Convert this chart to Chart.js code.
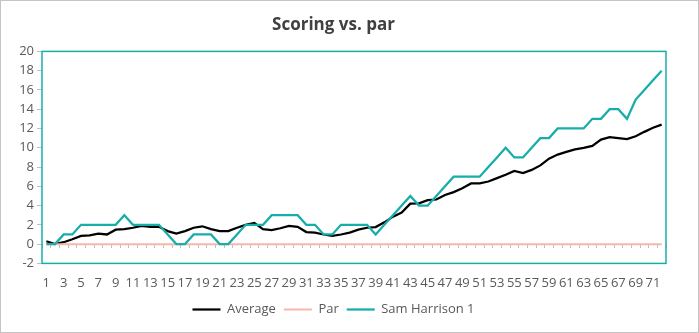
<!DOCTYPE html>
<html>
<head>
<meta charset="utf-8">
<script src="https://cdn.jsdelivr.net/npm/chart.js@4.4.1/dist/chart.umd.min.js"></script>
<style>
  html, body { margin: 0; padding: 0; background: #fff; }
  #wrap { position: relative; width: 699px; height: 333px; box-sizing: border-box; border: 1px solid #c4c4c4; }
</style>
</head>
<body>
<div id="wrap"><canvas id="myChart"></canvas></div>
<script>
// datos
var rounds = [];
for (var i = 1; i <= 72; i++) rounds.push(String(i));

var average = [0.3, 0.0, 0.2, 0.5, 0.85, 0.9, 1.1, 1.0, 1.5, 1.55, 1.7, 1.9, 1.8, 1.8, 1.35, 1.1, 1.35, 1.7,
  1.85, 1.55, 1.35, 1.35, 1.7, 2.0, 2.2, 1.55, 1.45, 1.65, 1.9, 1.8, 1.25, 1.2, 1.0, 0.87, 1.0, 1.2,
  1.5, 1.7, 1.77, 2.26, 2.85, 3.27, 4.2, 4.24, 4.56, 4.63, 5.1, 5.4, 5.8, 6.3, 6.3, 6.5, 6.85, 7.2,
  7.6, 7.37, 7.7, 8.17, 8.87, 9.29, 9.57, 9.84, 9.98, 10.2, 10.85, 11.1, 11.0, 10.9, 11.2, 11.65, 12.07, 12.4];

var par = [0, 0, 0, 0, 0, 0, 0, 0, 0, 0, 0, 0, 0, 0, 0, 0, 0, 0, 0, 0, 0, 0, 0, 0,
  0, 0, 0, 0, 0, 0, 0, 0, 0, 0, 0, 0, 0, 0, 0, 0, 0, 0, 0, 0, 0, 0, 0, 0,
  0, 0, 0, 0, 0, 0, 0, 0, 0, 0, 0, 0, 0, 0, 0, 0, 0, 0, 0, 0, 0, 0, 0, 0];

var samHarrison = [0, 0, 1, 1, 2, 2, 2, 2, 2, 3, 2, 2, 2, 2, 1, 0, 0, 1, 1, 1, 0, 0, 1, 2,
  2, 2, 3, 3, 3, 3, 2, 2, 1, 1, 2, 2, 2, 2, 1, 2, 3, 4, 5, 4, 4, 5, 6, 7,
  7, 7, 7, 8, 9, 10, 9, 9, 10, 11, 11, 12, 12, 12, 12, 13, 13, 14, 14, 13, 15, 16, 17, 18];

var yMin = -2, yMax = 20, yStep = 2;

var teal = '#17aeaa';
var gris = '#595959';
var fuente = "'Open Sans', 'Noto Sans', sans-serif";

// marco del area de trazado
var marco = {
  id: 'marco',
  afterDatasetsDraw: (chart) => {
    var a = chart.chartArea, c = chart.ctx;
    c.save();
    c.strokeStyle = teal;
    c.lineWidth = 1.5;
    c.strokeRect(a.left, a.top, a.right - a.left, a.bottom - a.top);
    c.restore();
  }
};

var ctx = document.getElementById('myChart').getContext('2d');
var chart = new Chart(ctx, {
  type: 'line',
  data: {
    labels: rounds,
    datasets: [
      { label: 'Average', data: average, borderColor: '#000000', backgroundColor: '#000000', borderWidth: 2.25, order: 2 },
      { label: 'Par', data: par, borderColor: '#f5b7aa', backgroundColor: '#f5b7aa', borderWidth: 2, order: 1 },
      { label: 'Sam Harrison 1', data: samHarrison, borderColor: teal, backgroundColor: teal, borderWidth: 2.25, order: 0 }
    ]
  },
  options: {
    responsive: true,
    maintainAspectRatio: false,
    animation: false,
    elements: { point: { radius: 0 }, line: { tension: 0 } },
    layout: { padding: { left: 0, right: 32, top: 4, bottom: 6 } },
    plugins: {
      title: {
        display: true,
        text: 'Scoring vs. par',
        color: '#404040',
        font: { family: fuente, size: 17, weight: 'bold' },
        padding: { top: 10, bottom: 16 }
      },
      legend: {
        position: 'bottom',
        labels: {
          color: gris,
          font: { family: fuente, size: 13 },
          usePointStyle: true,
          pointStyle: 'line',
          pointStyleWidth: 28,
          padding: 8,
          sort: (a, b) => a.datasetIndex - b.datasetIndex
        }
      },
      tooltip: { enabled: false }
    },
    scales: {
      x: {
        offset: true,
        grid: { display: false },
        border: { display: false },
        ticks: {
          color: gris,
          font: { family: fuente, size: 13 },
          autoSkip: false,
          maxRotation: 0,
          padding: 4,
          callback: function (val, idx) { return idx % 2 === 0 ? this.getLabelForValue(val) : ''; }
        }
      },
      xCero: {
        type: 'category',
        position: { y: 0 },
        offset: true,
        grid: { drawOnChartArea: false, offset: true, tickLength: 4, color: '#bfbfbf' },
        border: { display: false },
        ticks: { display: false }
      },
      y: {
        min: yMin,
        max: yMax,
        grid: { drawOnChartArea: false, tickLength: 5, color: '#bfbfbf' },
        border: { display: false },
        ticks: { stepSize: yStep, color: gris, font: { family: fuente, size: 13 }, padding: 3 },
        afterFit: (scale) => { scale.width = 41; }
      }
    }
  },
  plugins: [marco]
});
</script>
</body>
</html>
